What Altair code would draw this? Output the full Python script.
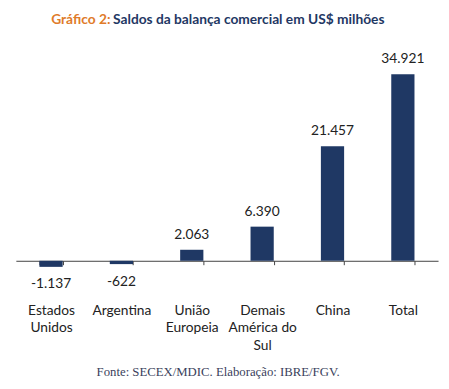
import altair as alt
import pandas as pd

categories = ["Estados Unidos", "Argentina", "União Europeia", "Demais América do Sul", "China", "Total"]
label_lines = [["Estados", "Unidos"], ["Argentina"], ["União", "Europeia"], ["Demais", "América do", "Sul"], ["China"], ["Total"]]
values = [-1137, -622, 2063, 6390, 21457, 34921]

df = pd.DataFrame({
    "cat": categories,
    "val": values,
    "lbl": [f"{v:,}".replace(",", ".") for v in values],
})
df_pos = df[df.val >= 0]
df_neg = df[df.val < 0]

expr = "".join(
    f"datum.value == '{c}' ? {l!r} : " for c, l in zip(categories, label_lines)
) + "datum.value"

FONT = "Lato"
NAVY = "#1F3864"

x = alt.X("cat:N", sort=categories, title=None,
          scale=alt.Scale(paddingInner=0.67, paddingOuter=0.335),
          axis=alt.Axis(labelAngle=0, tickBand="extent", tickSize=4, tickColor="#404040",
                        domainColor="#404040", labelPadding=40, labelFont=FONT,
                        labelFontSize=14, labelColor="#222222", labelLineHeight=17.5,
                        labelExpr=expr, labelBaseline="top"))
y = alt.Y("val:Q", title=None, scale=alt.Scale(domain=[0, 40000], nice=False, zero=True),
          axis=None)

base = alt.Chart(df)
bars = base.mark_bar(color=NAVY).encode(x=x, y=y)
pos_txt = alt.Chart(df_pos).mark_text(font=FONT, fontSize=14, color="#222222", baseline="bottom", dy=-8).encode(
    x=alt.X("cat:N", sort=categories), y="val:Q", text="lbl:N")
neg_txt = alt.Chart(df_neg).mark_text(font=FONT, fontSize=14, color="#222222", baseline="top", dy=11).encode(
    x=alt.X("cat:N", sort=categories), y="val:Q", text="lbl:N")

t1 = alt.Chart(pd.DataFrame({"t": ["Gráfico 2:"]})).mark_text(
    font=FONT, fontSize=14, fontWeight="bold", color="#E07B2A", align="left", baseline="middle"
).encode(text="t:N", x=alt.value(36), y=alt.value(-27.4))
t2 = alt.Chart(pd.DataFrame({"t": ["Saldos da balança comercial em US$ milhões"]})).mark_text(
    font=FONT, fontSize=14, fontWeight="bold", color=NAVY, align="left", baseline="middle"
).encode(text="t:N", x=alt.value(99), y=alt.value(-27.4))
foot = alt.Chart(pd.DataFrame({"t": ["Fonte: SECEX/MDIC. Elaboração: IBRE/FGV."]})).mark_text(
    font="Liberation Serif", fontSize=13, color="#3B3F5C", align="center", baseline="middle"
).encode(text="t:N", x=alt.value(206), y=alt.value(330.6))

chart = alt.layer(bars, pos_txt, neg_txt, t1, t2, foot).properties(
    width=430, height=217.6,
    autosize=alt.AutoSizeParams(type="none"),
    padding={"left": 8, "top": 36.4, "right": 3, "bottom": 120},
).configure_view(stroke=None)

chart.save("out.html", embed_options={"renderer": "svg", "actions": False})
